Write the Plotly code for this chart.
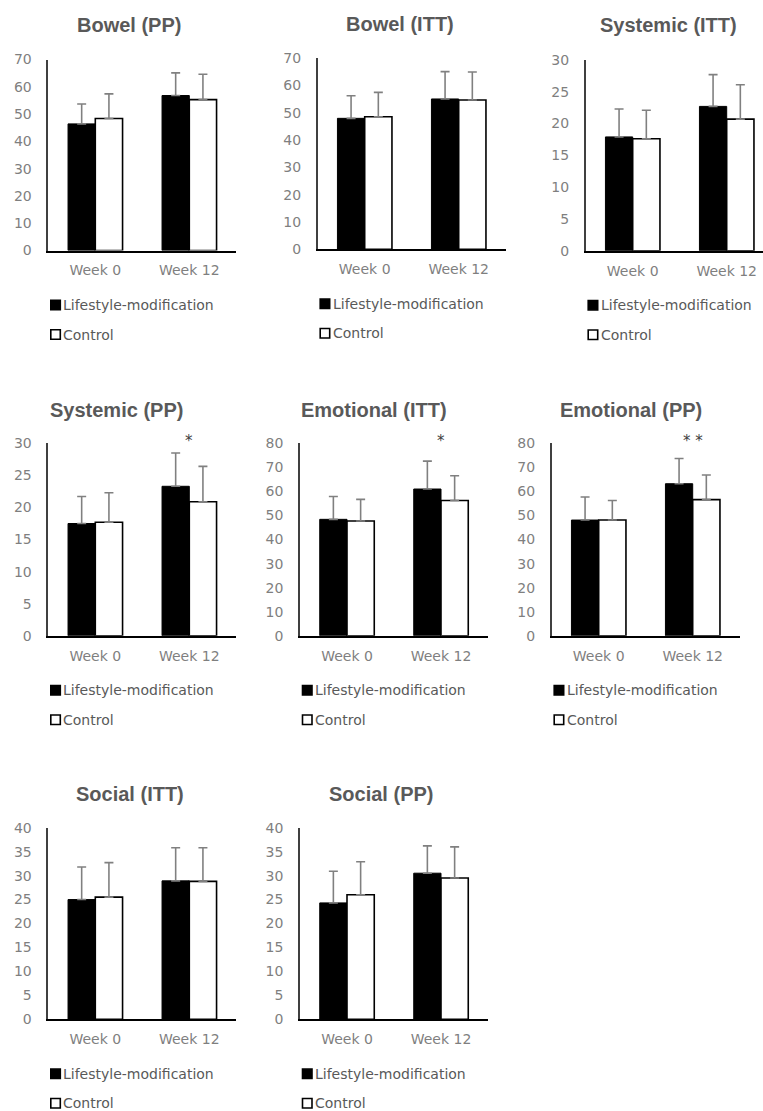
import plotly.graph_objects as go

# ---- data -------------------------------------------------------------
CATEGORIES = ["Week 0", "Week 12"]
SERIES = ["Lifestyle-modification", "Control"]

BOWEL_PP_LM = [46.4, 56.8]
BOWEL_PP_LM_SD = [7.3, 8.3]
BOWEL_PP_CTRL = [48.4, 55.3]
BOWEL_PP_CTRL_SD = [9.0, 9.3]

BOWEL_ITT_LM = [48.0, 55.1]
BOWEL_ITT_LM_SD = [8.3, 10.0]
BOWEL_ITT_CTRL = [48.6, 54.7]
BOWEL_ITT_CTRL_SD = [8.9, 10.3]

SYSTEMIC_ITT_LM = [17.9, 22.7]
SYSTEMIC_ITT_LM_SD = [4.4, 5.0]
SYSTEMIC_ITT_CTRL = [17.6, 20.7]
SYSTEMIC_ITT_CTRL_SD = [4.5, 5.4]

SYSTEMIC_PP_LM = [17.5, 23.3]
SYSTEMIC_PP_LM_SD = [4.2, 5.2]
SYSTEMIC_PP_CTRL = [17.7, 20.9]
SYSTEMIC_PP_CTRL_SD = [4.6, 5.5]

EMOTIONAL_ITT_LM = [48.4, 61.0]
EMOTIONAL_ITT_LM_SD = [9.5, 11.6]
EMOTIONAL_ITT_CTRL = [47.7, 56.2]
EMOTIONAL_ITT_CTRL_SD = [9.0, 10.3]

EMOTIONAL_PP_LM = [48.1, 63.2]
EMOTIONAL_PP_LM_SD = [9.6, 10.5]
EMOTIONAL_PP_CTRL = [48.1, 56.6]
EMOTIONAL_PP_CTRL_SD = [8.1, 10.2]

SOCIAL_ITT_LM = [25.0, 28.9]
SOCIAL_ITT_LM_SD = [6.8, 6.9]
SOCIAL_ITT_CTRL = [25.5, 28.8]
SOCIAL_ITT_CTRL_SD = [7.2, 7.0]

SOCIAL_PP_LM = [24.3, 30.5]
SOCIAL_PP_LM_SD = [6.6, 5.7]
SOCIAL_PP_CTRL = [26.0, 29.5]
SOCIAL_PP_CTRL_SD = [6.9, 6.5]

# significance markers above Week 12
SIG_SYSTEMIC_PP = "*"
SIG_EMOTIONAL_ITT = "*"
SIG_EMOTIONAL_PP = "* *"

# ---- page geometry (pixels) --------------------------------------------
W, H = 763, 1111
CAT_W = 94  # pixel width of one category slot


def px(x):
    return x / W


def py(y):
    return 1 - y / H


# (title, lm, lm_sd, ctrl, ctrl_sd, ymax, dtick, x_left, x_right, y_top, y_bottom, title_x, title_y, sig)
PANELS = [
    ("Bowel (PP)", BOWEL_PP_LM, BOWEL_PP_LM_SD, BOWEL_PP_CTRL, BOWEL_PP_CTRL_SD,
     70, 10, 48.3, 236.3, 59.5, 250.5, 129, 25, None),
    ("Bowel (ITT)", BOWEL_ITT_LM, BOWEL_ITT_LM_SD, BOWEL_ITT_CTRL, BOWEL_ITT_CTRL_SD,
     70, 10, 317.7, 505.7, 58.3, 249.3, 400, 24, None),
    ("Systemic (ITT)", SYSTEMIC_ITT_LM, SYSTEMIC_ITT_LM_SD, SYSTEMIC_ITT_CTRL, SYSTEMIC_ITT_CTRL_SD,
     30, 5, 585.7, 763, 60, 250.7, 668, 25.5, None),
    ("Systemic (PP)", SYSTEMIC_PP_LM, SYSTEMIC_PP_LM_SD, SYSTEMIC_PP_CTRL, SYSTEMIC_PP_CTRL_SD,
     30, 5, 48.3, 236.3, 443.3, 635.8, 117, 410, SIG_SYSTEMIC_PP),
    ("Emotional (ITT)", EMOTIONAL_ITT_LM, EMOTIONAL_ITT_LM_SD, EMOTIONAL_ITT_CTRL, EMOTIONAL_ITT_CTRL_SD,
     80, 10, 300, 488, 443.3, 635.8, 374, 410, SIG_EMOTIONAL_ITT),
    ("Emotional (PP)", EMOTIONAL_PP_LM, EMOTIONAL_PP_LM_SD, EMOTIONAL_PP_CTRL, EMOTIONAL_PP_CTRL_SD,
     80, 10, 551.7, 739.7, 443.3, 635.8, 631, 410, SIG_EMOTIONAL_PP),
    ("Social (ITT)", SOCIAL_ITT_LM, SOCIAL_ITT_LM_SD, SOCIAL_ITT_CTRL, SOCIAL_ITT_CTRL_SD,
     40, 5, 48.3, 236.3, 827.7, 1019.3, 130, 794, None),
    ("Social (PP)", SOCIAL_PP_LM, SOCIAL_PP_LM_SD, SOCIAL_PP_CTRL, SOCIAL_PP_CTRL_SD,
     40, 5, 300, 488, 827.7, 1019.3, 381, 794, None),
]

TITLE_FONT = dict(family="Liberation Sans", size=20, color="#595959")
TICK_FONT = dict(family="DejaVu Sans", size=14, color="#7f7f7f")
LEGEND_FONT = dict(family="DejaVu Sans", size=14, color="#595959")
ERR_COLOR = "#808080"

fig = go.Figure()
layout = dict(
    width=W, height=H,
    margin=dict(l=0, r=0, t=0, b=0, pad=0, autoexpand=False),
    paper_bgcolor="white", plot_bgcolor="white",
    barmode="group", bargap=0.42, bargroupgap=0,
    showlegend=False,
    annotations=[], shapes=[],
    font=dict(family="DejaVu Sans", color="#595959"),
)

for i, (title, lm, lm_sd, ctrl, ctrl_sd, ymax, dtick,
        x0, x1, yt, yb, tx, ty, sig) in enumerate(PANELS, start=1):
    suffix = "" if i == 1 else str(i)
    xa, ya = "x" + suffix, "y" + suffix

    fig.add_trace(go.Bar(
        x=CATEGORIES, y=lm, name=SERIES[0], xaxis=xa, yaxis=ya,
        marker=dict(color="black", line=dict(color="black", width=1)),
        error_y=dict(type="data", array=lm_sd, arrayminus=[0] * len(lm_sd),
                     symmetric=False, color=ERR_COLOR, thickness=1.6, width=4.5),
    ))
    fig.add_trace(go.Bar(
        x=CATEGORIES, y=ctrl, name=SERIES[1], xaxis=xa, yaxis=ya,
        marker=dict(color="white", line=dict(color="black", width=1.6)),
        error_y=dict(type="data", array=ctrl_sd, arrayminus=[0] * len(ctrl_sd),
                     symmetric=False, color=ERR_COLOR, thickness=1.6, width=4.5),
    ))

    layout["xaxis" + suffix] = dict(
        domain=[px(x0), px(x1)], anchor=ya, type="category",
        range=[-0.5, -0.5 + (x1 - x0) / CAT_W],
        showline=True, linecolor="black", linewidth=2,
        ticks="", showgrid=False, zeroline=False, automargin=False,
        tickfont=TICK_FONT, ticklabelstandoff=6, fixedrange=True,
    )
    layout["yaxis" + suffix] = dict(
        domain=[py(yb), py(yt)], anchor=xa,
        range=[0, ymax], tick0=0, dtick=dtick,
        showline=True, linecolor="#404040", linewidth=1.5,
        ticks="", showgrid=False, zeroline=False, automargin=False,
        tickfont=TICK_FONT, ticklabelstandoff=12, fixedrange=True,
    )

    # panel title
    layout["annotations"].append(dict(
        text="<b>%s</b>" % title, xref="paper", yref="paper",
        x=px(tx), y=py(ty), xanchor="center", yanchor="middle",
        showarrow=False, font=TITLE_FONT,
    ))

    # significance marker
    if sig:
        layout["annotations"].append(dict(
            text=sig, xref=xa, yref=ya + " domain",
            x=CATEGORIES[1], y=1, xanchor="center", yanchor="middle",
            yshift=2, showarrow=False,
            font=dict(family="DejaVu Sans", size=15, color="#404040"),
        ))

    # per-panel legend: key squares and labels
    key_rows = [(SERIES[0], "black", yb + 54.5), (SERIES[1], "white", yb + 84)]
    for label, fill, cy in key_rows:
        layout["shapes"].append(dict(
            type="rect", xref="paper", yref="paper",
            x0=px(x0 + 2.5), x1=px(x0 + 12), y0=py(cy + 4.75), y1=py(cy - 4.75),
            fillcolor=fill, line=dict(color="black", width=1.6),
        ))
        layout["annotations"].append(dict(
            text=label, xref="paper", yref="paper",
            x=px(x0 + 13), y=py(cy), xanchor="left", yanchor="middle",
            showarrow=False, font=LEGEND_FONT,
        ))

fig.update_layout(**layout)
fig.write_html("out.html")
